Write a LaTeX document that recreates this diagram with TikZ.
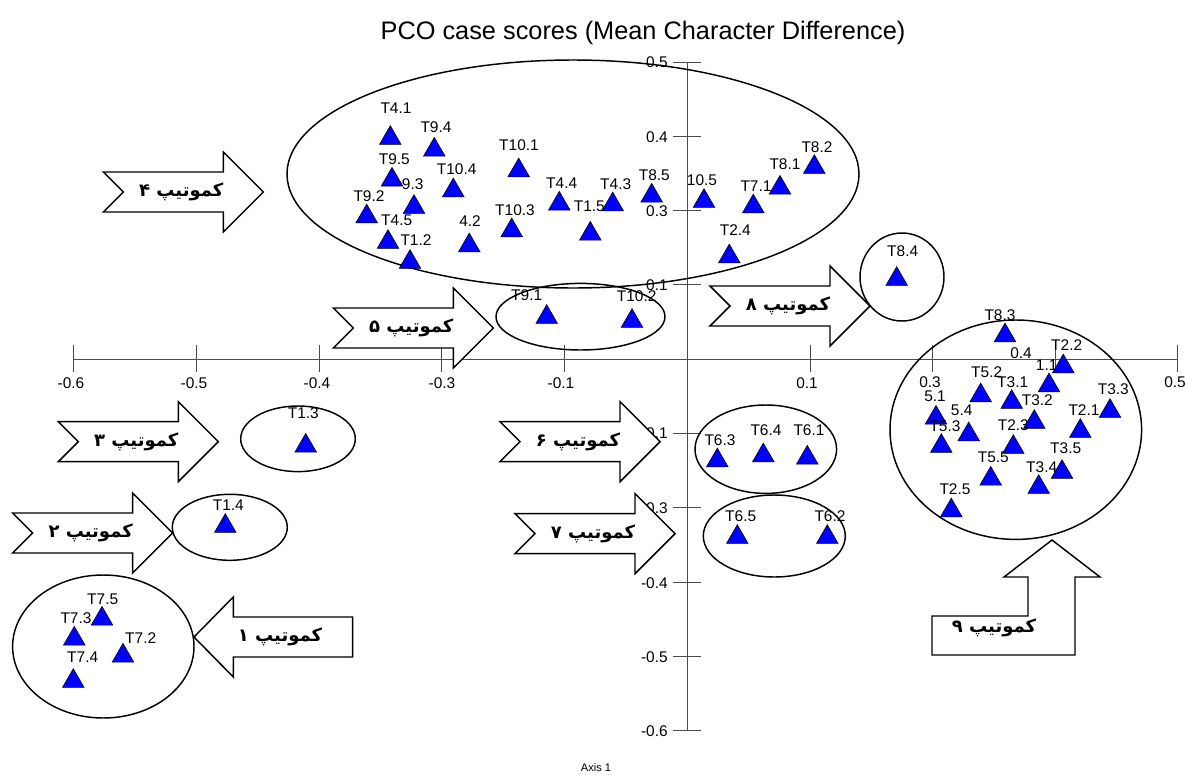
\documentclass[tikz,border=0pt]{standalone}
\usepackage{fontspec}
\usetikzlibrary{shapes.geometric}
\setmainfont{Liberation Sans}
\newfontfamily\arabicfont[Script=Arabic]{DejaVu Sans}
\TeXXeTstate=1
\tikzset{
	axisline/.style={draw=black!70, line width=0.75pt},
	group/.style={draw=black, line width=1.1pt},
	tri/.style={regular polygon, regular polygon sides=3, minimum size=18.8pt, inner sep=0pt, fill=blue, draw=black, line width=0.4pt},
	lbl/.style={font=\fontsize{11.6}{12}\selectfont},
	kmarrow/.style={draw=black, fill=white, line width=1.1pt, line join=miter},
	kmtext/.style={font=\arabicfont\bfseries\fontsize{13.5}{15}\selectfont}
}
\newcommand{\kmright}[4]{%
	\draw [kmarrow] (#2,#3-20) -- (#2+120,#3-20) -- (#2+120,#3-40) -- (#2+160,#3) -- (#2+120,#3+40) -- (#2+120,#3+20) -- (#2,#3+20) -- (#2+20,#3) -- cycle;
	\node [kmtext] (#1) at (#2+78,#3) {#4};
}
\begin{document}
\begin{tikzpicture}[x=0.75pt,y=-0.75pt]
	\tikzstyle{every node}+=[inner sep=0pt]
	\useasboundingbox (0,0) rectangle (1186,775);
	\node [font=\fontsize{19}{21}\selectfont] (title) at (643,33) {PCO case scores (Mean Character Difference)};
	\node [font=\fontsize{8.3}{9}\selectfont] (axname) at (596,768) {Axis 1};
	% axes
	\draw [axisline] (73,359) -- (1178,359);
	\draw [axisline] (687,62) -- (687,730);
	\foreach \tx in {73,196,319,441.7,564.3,810,932.7,1055,1177.3}
		\draw [axisline] (\tx,345) -- (\tx,372);
	\foreach \ty in {62,136,210,284,433,507,582,656,730}
		\draw [axisline] (673,\ty) -- (701,\ty);
	\node [lbl] (hm6) at (71,383) {-0.6};
	\node [lbl] (hm5) at (194,383) {-0.5};
	\node [lbl] (hm4) at (317,383) {-0.4};
	\node [lbl] (hm3) at (442,383) {-0.3};
	\node [lbl] (hm1) at (561,383) {-0.1};
	\node [lbl] (hp1) at (807,383) {0.1};
	\node [lbl] (hp3) at (930,382) {0.3};
	\node [lbl] (hp4) at (1021,353) {0.4};
	\node [lbl] (hp5) at (1175,382) {0.5};
	\node [lbl, anchor=east] (vp5) at (668,62) {0.5};
	\node [lbl, anchor=east] (vp4) at (668,137) {0.4};
	\node [lbl, anchor=east] (vp3) at (668,211) {0.3};
	\node [lbl, anchor=east] (vp1) at (668,285) {0.1};
	\node [lbl, anchor=east] (vm1) at (668,433) {-0.1};
	\node [lbl, anchor=east] (vm3) at (668,508) {-0.3};
	\node [lbl, anchor=east] (vm4) at (668,583) {-0.4};
	\node [lbl, anchor=east] (vm5) at (668,657) {-0.5};
	\node [lbl, anchor=east] (vm6) at (668,731) {-0.6};
	% groups
	\draw [group] (573,174) ellipse (286 and 114);
	\draw [group] (580.5,316.7) ellipse (84.5 and 33.3);
	\draw [group] (902,277) ellipse (42 and 44);
	\draw [group] (298,438.8) ellipse (57.3 and 32.8);
	\draw [group] (229.8,527.3) ellipse (57.5 and 33);
	\draw [group] (103.3,646.5) ellipse (90.7 and 71.5);
	\draw [group] (765.8,449.2) ellipse (70.8 and 44.2);
	\draw [group] (774.3,536) ellipse (71 and 41);
	\draw [group] (1015.8,429.7) ellipse (125.8 and 109.7);
	% cases
	\node [tri] (p41) at (390.3,138.2) {}; \node [lbl] (l41) at (396,107.7) {T4.1};
	\node [tri] (p94) at (434.3,149.9) {}; \node [lbl] (l94) at (436,126.7) {T9.4};
	\node [tri] (p95) at (392,179.9) {}; \node [lbl] (l95) at (394.3,159) {T9.5};
	\node [tri] (p93) at (414,207.2) {}; \node [lbl] (l93) at (412.7,184) {9.3};
	\node [tri] (p104) at (453.3,190.6) {}; \node [lbl] (l104) at (456.7,169.3) {T10.4};
	\node [tri] (p101) at (518.7,170.6) {}; \node [lbl] (l101) at (519,145) {T10.1};
	\node [tri] (p44) at (559.3,203.9) {}; \node [lbl] (l44) at (561.7,183.3) {T4.4};
	\node [tri] (p43) at (612.7,204.6) {}; \node [lbl] (l43) at (615.7,184) {T4.3};
	\node [tri] (p85) at (651.7,195.9) {}; \node [lbl] (l85) at (654.3,175.3) {T8.5};
	\node [tri] (p92) at (366.7,216.6) {}; \node [lbl] (l92) at (369,195.7) {T9.2};
	\node [tri] (p45) at (388,242.2) {}; \node [lbl] (l45) at (396.7,220.7) {T4.5};
	\node [tri] (p12) at (410,262.2) {}; \node [lbl] (l12) at (416,240) {T1.2};
	\node [tri] (p42) at (469.3,245.6) {}; \node [lbl] (l42) at (470,221) {4.2};
	\node [tri] (p103) at (511.7,230.6) {}; \node [lbl] (l103) at (515,210) {T10.3};
	\node [tri] (p15) at (590.3,233.9) {}; \node [lbl] (l15) at (589.3,206) {T1.5};
	\node [tri] (p105) at (704,201.2) {}; \node [lbl] (l105) at (702,180) {10.5};
	\node [tri] (p71) at (753.3,206.6) {}; \node [lbl] (l71) at (756,185.7) {T7.1};
	\node [tri] (p81) at (780,187.9) {}; \node [lbl] (l81) at (785,164) {T8.1};
	\node [tri] (p82) at (814.3,167.2) {}; \node [lbl] (l82) at (817,146.7) {T8.2};
	\node [tri] (p24) at (729.3,256.6) {}; \node [lbl] (l24) at (735.3,230) {T2.4};
	\node [tri] (p84) at (896.7,279.2) {}; \node [lbl] (l84) at (902.7,251) {T8.4};
	\node [tri] (p91) at (546.7,317.2) {}; \node [lbl] (l91) at (526.7,295) {T9.1};
	\node [tri] (p102) at (632,321.2) {}; \node [lbl] (l102) at (636.7,296) {T10.2};
	\node [tri] (p13) at (305.7,445.9) {}; \node [lbl] (l13) at (303.3,412.7) {T1.3};
	\node [tri] (p14) at (225.3,526.2) {}; \node [lbl] (l14) at (228.3,505) {T1.4};
	\node [tri] (p75) at (102,618.9) {}; \node [lbl] (l75) at (102.7,599.3) {T7.5};
	\node [tri] (p73) at (74.3,638.9) {}; \node [lbl] (l73) at (76,618.3) {T7.3};
	\node [tri] (p72) at (123,655.9) {}; \node [lbl] (l72) at (140.7,637.7) {T7.2};
	\node [tri] (p74) at (73.3,681.2) {}; \node [lbl] (l74) at (82.7,657.3) {T7.4};
	\node [tri] (p63) at (717.3,460.6) {}; \node [lbl] (l63) at (720,440) {T6.3};
	\node [tri] (p64) at (763.3,455.6) {}; \node [lbl] (l64) at (766,430) {T6.4};
	\node [tri] (p61) at (807.3,457.9) {}; \node [lbl] (l61) at (809,430) {T6.1};
	\node [tri] (p65) at (737.3,537.2) {}; \node [lbl] (l65) at (740.7,516) {T6.5};
	\node [tri] (p62) at (827.3,537.2) {}; \node [lbl] (l62) at (830,516) {T6.2};
	\node [tri] (p83) at (1005,335.6) {}; \node [lbl] (l83) at (1000,315) {T8.3};
	\node [tri] (p22) at (1063.3,366.6) {}; \node [lbl] (l22) at (1066.7,345) {T2.2};
	\node [tri] (p11) at (1049,385.6) {}; \node [lbl] (l11) at (1046.7,365) {1.1};
	\node [tri] (p33) at (1110,411.2) {}; \node [lbl] (l33) at (1113.3,389.3) {T3.3};
	\node [tri] (p52) at (980.7,395.6) {}; \node [lbl] (l52) at (986.7,372.3) {T5.2};
	\node [tri] (p31) at (1011.7,402.2) {}; \node [lbl] (l31) at (1012.7,381.7) {T3.1};
	\node [tri] (p51) at (936,417.9) {}; \node [lbl] (l51) at (935,396.7) {5.1};
	\node [tri] (p32) at (1034.3,422.2) {}; \node [lbl] (l32) at (1037.3,400) {T3.2};
	\node [tri] (p21) at (1080.3,431.2) {}; \node [lbl] (l21) at (1084,410) {T2.1};
	\node [tri] (p54) at (968.7,434.6) {}; \node [lbl] (l54) at (961.7,410.7) {5.4};
	\node [tri] (p53) at (941.3,446.2) {}; \node [lbl] (l53) at (945,426) {T5.3};
	\node [tri] (p23) at (1013.3,447.2) {}; \node [lbl] (l23) at (1013.3,425) {T2.3};
	\node [tri] (p35) at (1062,472.2) {}; \node [lbl] (l35) at (1065.7,448.3) {T3.5};
	\node [tri] (p55) at (990.7,478.9) {}; \node [lbl] (l55) at (993.3,457.3) {T5.5};
	\node [tri] (p34) at (1038.7,487.2) {}; \node [lbl] (l34) at (1041.7,466.7) {T3.4};
	\node [tri] (p25) at (951.3,510.6) {}; \node [lbl] (l25) at (955,489.3) {T2.5};
	% arrows
	\kmright{km4}{103.3}{192}{\beginR کموتیپ ۴\endR}
	\kmright{km3}{58.3}{441.7}{\beginR کموتیپ ۳\endR}
	\kmright{km2}{12.7}{533}{\beginR کموتیپ ۲\endR}
	\kmright{km5}{333.3}{328}{\beginR کموتیپ ۵\endR}
	\kmright{km6}{500}{441.7}{\beginR کموتیپ ۶\endR}
	\kmright{km7}{515}{533.7}{\beginR کموتیپ ۷\endR}
	\kmright{km8}{710}{306}{\beginR کموتیپ ۸\endR}
	\draw [kmarrow] (194,637) -- (233.3,597) -- (233.3,617) -- (352.7,617) -- (352.7,657) -- (233.3,657) -- (233.3,677) -- cycle;
	\node [kmtext] (km1) at (280,636.5) {\beginR کموتیپ ۱\endR};
	\draw [kmarrow] (932,616) -- (1028,616) -- (1028,577) -- (1004,577) -- (1052,540) -- (1100,577) -- (1075,577) -- (1075,655) -- (932,655) -- cycle;
	\node [kmtext] (km9) at (994,628.3) {\beginR کموتیپ ۹\endR};
\end{tikzpicture}
\end{document}
